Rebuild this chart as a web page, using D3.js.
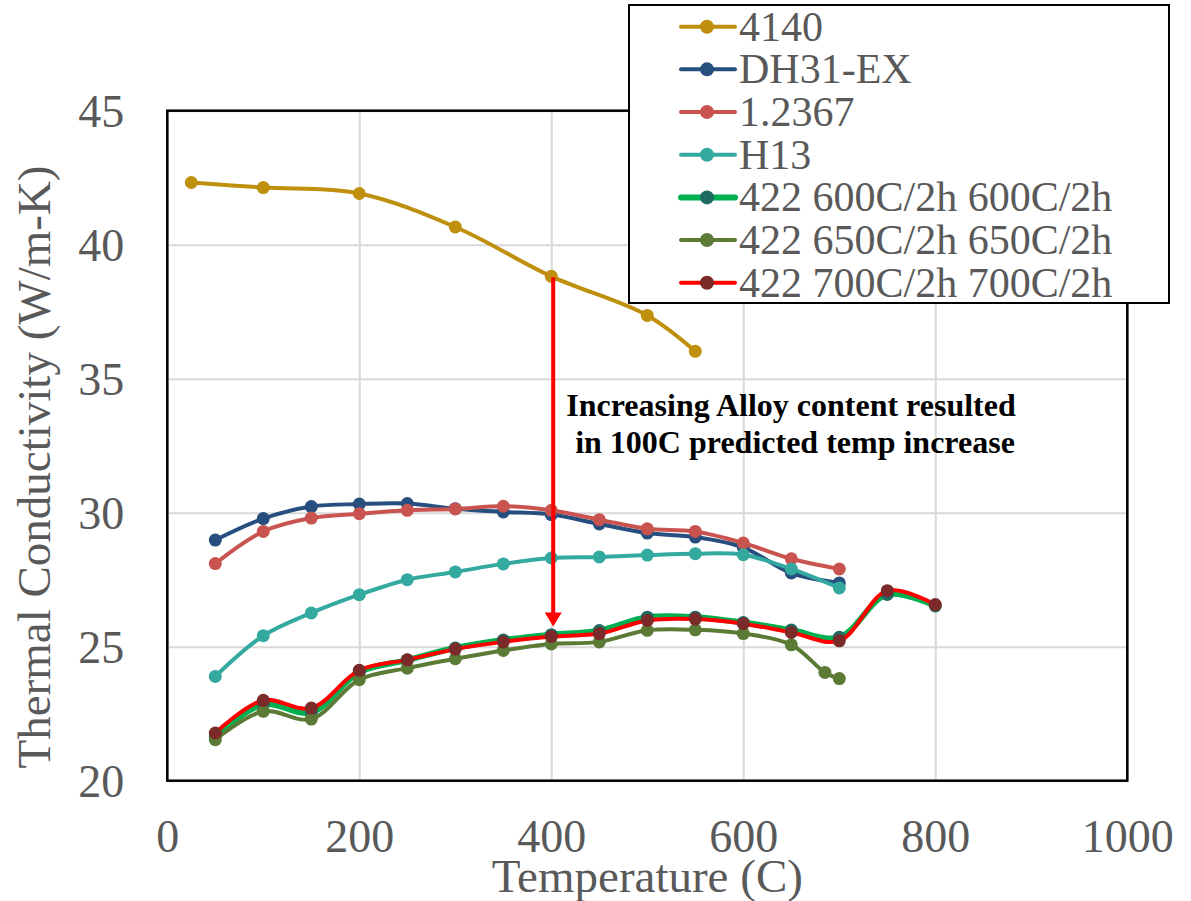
<!DOCTYPE html>
<html>
<head>
<meta charset="utf-8">
<script src="https://cdn.jsdelivr.net/npm/d3@7"></script>
<style>
  body { margin: 0; background: #fff; }
  text { font-family: "Liberation Serif", "Times New Roman", serif; }
</style>
</head>
<body>
<div id="viz"></div>
<script>
// data
const names = ['4140', 'DH31-EX', '1.2367', 'H13',
  '422 600C/2h 600C/2h', '422 650C/2h 650C/2h', '422 700C/2h 700C/2h']

const temp4140 = [25, 100, 200, 300, 400, 500, 550]
const k4140 = [42.32, 42.13, 41.91, 40.66, 38.82, 37.36, 36.02]

const tempTool = [50, 100, 150, 200, 250, 300, 350, 400, 450, 500, 550, 600, 650, 700]
const kDH31 = [28.98, 29.78, 30.23, 30.32, 30.34, 30.15, 30.03, 29.93, 29.58, 29.24, 29.09, 28.70, 27.75, 27.38]
const k12367 = [28.10, 29.30, 29.80, 29.96, 30.09, 30.14, 30.24, 30.09, 29.74, 29.40, 29.30, 28.87, 28.28, 27.90]
const kH13 = [23.89, 25.41, 26.26, 26.94, 27.50, 27.79, 28.09, 28.31, 28.35, 28.42, 28.47, 28.43, 27.90, 27.19]

const temp422 = [50, 100, 150, 200, 250, 300, 350, 400, 450, 500, 550, 600, 650, 700, 750, 800]
const k600 = [21.65, 22.85, 22.55, 24.05, 24.50, 24.95, 25.25, 25.45, 25.60, 26.10, 26.10, 25.90, 25.62, 25.35, 26.95, 26.52]
const k700 = [21.78, 23.00, 22.71, 24.12, 24.51, 24.91, 25.18, 25.38, 25.49, 25.98, 26.03, 25.86, 25.53, 25.22, 27.09, 26.57]

const temp650 = [50, 100, 150, 200, 250, 300, 350, 400, 450, 500, 550, 600, 650, 685, 700]
const k650 = [21.53, 22.59, 22.30, 23.77, 24.20, 24.55, 24.86, 25.10, 25.18, 25.61, 25.63, 25.49, 25.07, 24.04, 23.81]

const xTicks = [0, 200, 400, 600, 800, 1000]
const yTicks = [20, 25, 30, 35, 40, 45]

// series table built from the arrays above
const zip = (t, v) => t.map((d, i) => ({t: d, v: v[i]}))
const series = [
  {name: names[0], pts: zip(temp4140, k4140), line: '#BF8F0E', dot: '#BF8F0E', w: 4},
  {name: names[1], pts: zip(tempTool, kDH31), line: '#264F7F', dot: '#264F7F', w: 4},
  {name: names[2], pts: zip(tempTool, k12367), line: '#C9544F', dot: '#C9544F', w: 4},
  {name: names[3], pts: zip(tempTool, kH13), line: '#34A9A0', dot: '#34A9A0', w: 4},
  {name: names[4], pts: zip(temp422, k600), line: '#00B050', dot: '#1E6A60', w: 6},
  {name: names[5], pts: zip(temp650, k650), line: '#5B7A35', dot: '#5B7A35', w: 4},
  {name: names[6], pts: zip(temp422, k700), line: '#FF0000', dot: '#7B2A2A', w: 4}
]

const W = 1191, H = 901
const mLeft = 167.3, mRight = 1127.3, mTop = 110.7, mBottom = 780.7
const grey = '#595959'

let svg = d3.select('#viz').append('svg')
  .attr('width', W).attr('height', H)

let x = d3.scaleLinear().domain([0, 1000]).range([mLeft, mRight])
let y = d3.scaleLinear().domain([20, 45]).range([mBottom, mTop])

//gridlines
svg.append('g')
  .attr('transform', `translate(0,${mBottom})`)
  .call(d3.axisBottom(x).tickValues(xTicks).tickSize(-(mBottom - mTop)).tickFormat(''))
  .call(g => g.select('.domain').remove())
  .call(g => g.selectAll('line').attr('stroke', '#D9D9D9').attr('stroke-width', 2))

svg.append('g')
  .attr('transform', `translate(${mLeft},0)`)
  .call(d3.axisLeft(y).tickValues(yTicks).tickSize(-(mRight - mLeft)).tickFormat(''))
  .call(g => g.select('.domain').remove())
  .call(g => g.selectAll('line').attr('stroke', '#D9D9D9').attr('stroke-width', 2))

//tick labels
svg.append('g')
  .attr('transform', `translate(0,${mBottom})`)
  .call(d3.axisBottom(x).tickValues(xTicks).tickSize(0).tickPadding(0).tickFormat(d3.format('d')))
  .call(g => g.select('.domain').remove())
  .call(g => g.selectAll('text')
    .attr('y', 71).attr('dy', 0)
    .attr('fill', grey).attr('font-size', 46)
    .style('font-family', '"Liberation Serif", serif'))

svg.append('g')
  .attr('transform', `translate(${mLeft},0)`)
  .call(d3.axisLeft(y).tickValues(yTicks).tickSize(0).tickPadding(43))
  .call(g => g.select('.domain').remove())
  .call(g => g.selectAll('text')
    .attr('dy', '0.34em')
    .attr('fill', grey).attr('font-size', 46)
    .style('font-family', '"Liberation Serif", serif'))

//plot border
svg.append('rect')
  .attr('x', mLeft).attr('y', mTop)
  .attr('width', mRight - mLeft).attr('height', mBottom - mTop)
  .attr('fill', 'none').attr('stroke', '#000').attr('stroke-width', 2.5)

//axis titles
svg.append('text')
  .attr('x', (mLeft + mRight) / 2).attr('y', 892)
  .attr('text-anchor', 'middle')
  .attr('fill', grey).attr('font-size', 47)
  .text('Temperature (C)')

svg.append('text')
  .attr('transform', 'translate(50,467) rotate(-90)')
  .attr('text-anchor', 'middle')
  .attr('fill', grey).attr('font-size', 47)
  .text('Thermal Conductivity (W/m-K)')

//series
let line = d3.line()
  .x(d => x(d.t))
  .y(d => y(d.v))
  .curve(d3.curveCatmullRom.alpha(0.5))

series.forEach(s => {
  let g = svg.append('g')
  g.append('path')
    .attr('d', line(s.pts))
    .attr('fill', 'none')
    .attr('stroke', s.line)
    .attr('stroke-width', s.w)
    .attr('stroke-linejoin', 'round')
  g.selectAll('circle')
    .data(s.pts)
    .enter()
    .append('circle')
    .attr('cx', d => x(d.t))
    .attr('cy', d => y(d.v))
    .attr('r', 6.5)
    .attr('fill', s.dot)
})

//annotation arrow
let ax = x(402)
let y0 = y(38.79), y1 = y(25.75)
svg.append('line')
  .attr('x1', ax).attr('x2', ax)
  .attr('y1', y0).attr('y2', y1 - 12)
  .attr('stroke', '#FF0000').attr('stroke-width', 4)
svg.append('path')
  .attr('d', `M${ax - 8.5},${y1 - 14} L${ax + 8.5},${y1 - 14} L${ax},${y1} Z`)
  .attr('fill', '#FF0000')

svg.append('text')
  .attr('x', 791).attr('y', 416)
  .attr('text-anchor', 'middle')
  .attr('font-size', 32).attr('font-weight', 'bold').attr('fill', '#000')
  .text('Increasing Alloy content resulted')
svg.append('text')
  .attr('x', 795).attr('y', 453)
  .attr('text-anchor', 'middle')
  .attr('font-size', 32).attr('font-weight', 'bold').attr('fill', '#000')
  .text('in 100C predicted temp increase')

//legend
let legend = svg.append('g')
legend.append('rect')
  .attr('x', 629).attr('y', 5)
  .attr('width', 540).attr('height', 298)
  .attr('fill', '#fff').attr('stroke', '#000').attr('stroke-width', 2)

let rows = legend.selectAll('g.row')
  .data(series)
  .enter()
  .append('g')
  .attr('class', 'row')
  .attr('transform', (d, i) => `translate(0,${26.7 + i * 42.67})`)

rows.append('line')
  .attr('x1', 681).attr('x2', 735)
  .attr('stroke', d => d.line)
  .attr('stroke-width', d => d.w)
  .attr('stroke-linecap', 'round')
rows.append('circle')
  .attr('cx', 707).attr('r', 7)
  .attr('fill', d => d.dot)
rows.append('text')
  .attr('x', 739).attr('dy', '0.33em')
  .attr('font-size', 42).attr('fill', grey)
  .text(d => d.name)
</script>
</body>
</html>
